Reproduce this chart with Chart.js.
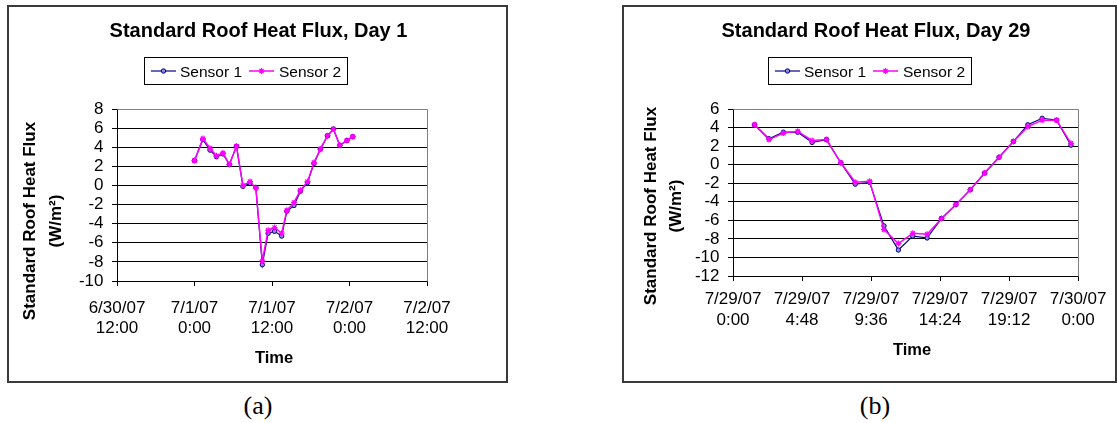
<!DOCTYPE html>
<html><head><meta charset="utf-8">
<script src="https://cdn.jsdelivr.net/npm/chart.js@4.4.1/dist/chart.umd.min.js"></script>
<style>
html,body{margin:0;padding:0;background:#fff;width:1117px;height:423px;overflow:hidden;}
.box{position:absolute;box-sizing:border-box;border:2px solid #3a3a3a;background:#fff;}
.box canvas{display:block;}
.cap{position:absolute;font-family:'Liberation Serif','Times New Roman',serif;font-size:26px;line-height:26px;width:100px;text-align:center;color:#000;}
</style></head><body>
<div class="box" style="left:7px;top:5px;width:501px;height:378px;"><canvas id="ca" width="497" height="374"></canvas></div>
<div class="box" style="left:622px;top:5px;width:495px;height:378px;"><canvas id="cb" width="491" height="374"></canvas></div>
<div class="cap" style="left:208px;top:393px;">(a)</div>
<div class="cap" style="left:825px;top:393px;">(b)</div>
<script>
// ---------- DATA ----------
const sensorNames = ['Sensor 1', 'Sensor 2'];
const yTitle = ['Standard Roof Heat Flux', '(W/m\u00B2)'];
const xTitle = 'Time';

// (a) Day 1 — time in hours after 7/1/07 0:00
const titleA = 'Standard Roof Heat Flux, Day 1';
const hoursA = [0, 1.3, 2.4, 3.4, 4.4, 5.4, 6.5, 7.5, 8.6, 9.5, 10.5, 11.4, 12.4, 13.5, 14.3, 15.4, 16.4, 17.5, 18.5, 19.5, 20.6, 21.5, 22.5, 23.6, 24.5];
const sensor1A = [2.6, 4.8, 3.7, 3.0, 3.3, 2.2, 4.1, -0.1, 0.2, -0.2, -8.3, -5.0, -4.8, -5.3, -2.7, -2.1, -0.6, 0.3, 2.3, 3.8, 5.2, 5.9, 4.2, 4.7, 5.1];
const sensor2A = [2.6, 4.9, 3.9, 3.1, 3.4, 2.2, 4.1, 0.0, 0.4, -0.3, -7.9, -4.7, -4.4, -5.0, -2.6, -1.8, -0.5, 0.4, 2.4, 3.8, 5.2, 5.9, 4.2, 4.7, 5.1];
const xTickHoursA = [-12, 0, 12, 24, 36];
const xTickLabelsA = [['6/30/07','12:00'],['7/1/07','0:00'],['7/1/07','12:00'],['7/2/07','0:00'],['7/2/07','12:00']];
const yRangeA = [-10, 8];

// (b) Day 29 — time in hours after 7/29/07 0:00
const titleB = 'Standard Roof Heat Flux, Day 29';
const hoursB = [1.5, 2.5, 3.5, 4.5, 5.5, 6.5, 7.5, 8.5, 9.5, 10.5, 11.5, 12.5, 13.5, 14.5, 15.5, 16.5, 17.5, 18.5, 19.5, 20.5, 21.5, 22.5, 23.5];
const sensor1B = [4.3, 2.8, 3.5, 3.5, 2.4, 2.7, 0.2, -2.1, -1.9, -6.6, -9.2, -7.7, -7.9, -5.8, -4.3, -2.7, -0.9, 0.8, 2.5, 4.3, 5.0, 4.8, 2.1];
const sensor2B = [4.3, 2.7, 3.4, 3.6, 2.6, 2.7, 0.2, -1.9, -1.8, -7.0, -8.5, -7.4, -7.5, -5.8, -4.3, -2.7, -0.9, 0.8, 2.5, 4.1, 4.8, 4.8, 2.3];
const xTickHoursB = [0, 4.8, 9.6, 14.4, 19.2, 24];
const xTickLabelsB = [['7/29/07','0:00'],['7/29/07','4:48'],['7/29/07','9:36'],['7/29/07','14:24'],['7/29/07','19:12'],['7/30/07','0:00']];
const yRangeB = [-12, 6];

// ---------- STYLE ----------
const FONT = "'Liberation Sans', Arial, sans-serif";
Chart.defaults.font.family = FONT;
Chart.defaults.color = '#000';
const S1 = {line:'#000080', fill:'#8c8cdc'};
const S2 = {line:'#ff00ff'};

function drawMarker(ctx, style, x, y) {
  ctx.save();
  if (style === 'circle') {
    ctx.beginPath(); ctx.arc(x, y, 2.2, 0, Math.PI*2);
    ctx.fillStyle = S1.fill; ctx.fill();
    ctx.lineWidth = 1; ctx.strokeStyle = S1.line; ctx.stroke();
  } else {
    const r = 3; ctx.strokeStyle = S2.line; ctx.lineWidth = 1.2; ctx.beginPath();
    for (let k = 0; k < 4; k++) {
      const a = k*Math.PI/4;
      ctx.moveTo(x - r*Math.cos(a), y - r*Math.sin(a));
      ctx.lineTo(x + r*Math.cos(a), y + r*Math.sin(a));
    }
    ctx.stroke();
  }
  ctx.restore();
}

const decoPlugin = {
  id: 'deco',
  beforeDatasetsDraw(chart) {
    const ctx = chart.ctx, a = chart.chartArea;
    const al = v => Math.round(v - 0.5) + 0.5;
    ctx.save();
    ctx.strokeStyle = '#808080'; ctx.lineWidth = 1;
    ctx.beginPath();
    ctx.moveTo(al(a.left), al(a.top)); ctx.lineTo(al(a.right), al(a.top)); ctx.lineTo(al(a.right), al(a.bottom));
    ctx.stroke();
    ctx.restore();
  },
  afterDraw(chart, args, o) {
    const ctx = chart.ctx;
    ctx.save();
    ctx.fillStyle = '#000';
    // title
    ctx.font = 'bold 20px ' + FONT; ctx.textAlign = 'center'; ctx.textBaseline = 'alphabetic';
    ctx.fillText(o.title, o.titleX, o.titleY);
    // legend
    const L = o.legendX, T = o.legendY;
    ctx.strokeStyle = '#000'; ctx.lineWidth = 1;
    ctx.strokeRect(L + 0.5, T + 0.5, 203, 27);
    const sx = [7, 105], tx = [36, 135], styles = ['circle', 'star'];
    ctx.font = '15.5px ' + FONT; ctx.textAlign = 'left';
    chart.data.datasets.forEach((ds, i) => {
      const y = T + 14;
      ctx.strokeStyle = ds.borderColor; ctx.lineWidth = ds.borderWidth;
      ctx.beginPath(); ctx.moveTo(L + sx[i], y); ctx.lineTo(L + sx[i] + 25, y); ctx.stroke();
      drawMarker(ctx, styles[i], L + sx[i] + 12.5, y);
      ctx.fillStyle = '#000';
      ctx.fillText(ds.label, L + tx[i], T + 20);
    });
    // y title (rotated)
    ctx.font = 'bold 17px ' + FONT; ctx.textAlign = 'center';
    yTitle.forEach((t, i) => {
      ctx.save(); ctx.translate(o.yTitleX[i], o.yTitleY); ctx.rotate(-Math.PI/2);
      ctx.fillText(t, 0, 0); ctx.restore();
    });
    // x title
    ctx.font = 'bold 16.5px ' + FONT;
    ctx.fillText(xTitle, o.xTitleX, o.xTitleY);
    ctx.restore();
  }
};

function makeDatasets(hours, s1, s2) {
  return [
    { label: sensorNames[0], data: hours.map((h, i) => ({x: h, y: s1[i]})),
      borderColor: S1.line, borderWidth: 1.2, tension: 0, pointStyle: 'circle', pointRadius: 2.2,
      pointBorderWidth: 1, pointBorderColor: S1.line, pointBackgroundColor: S1.fill, order: 1 },
    { label: sensorNames[1], data: hours.map((h, i) => ({x: h, y: s2[i]})),
      borderColor: S2.line, borderWidth: 1.5, tension: 0, pointStyle: 'star', pointRadius: 3,
      pointBorderWidth: 1.2, pointBorderColor: S2.line, pointBackgroundColor: S2.line, order: 0 }
  ];
}

function makeChart(id, hours, s1, s2, xTicks, xLabels, yRange, L) {
  return new Chart(document.getElementById(id), {
    type: 'line',
    data: { datasets: makeDatasets(hours, s1, s2) },
    plugins: [decoPlugin],
    options: {
      responsive: false, animation: false, devicePixelRatio: 1,
      layout: { autoPadding: false, padding: { left: L.padL, right: L.padR, top: L.padT, bottom: L.padB } },
      plugins: { legend: {display: false}, title: {display: false}, tooltip: {enabled: false}, deco: L.deco },
      scales: {
        x: { type: 'linear', min: xTicks[0], max: xTicks[xTicks.length - 1],
             afterBuildTicks: s => { s.ticks = xTicks.map(v => ({value: v})); },
             afterFit: s => { s.height = 60; },
             ticks: { autoSkip: false, maxRotation: 0, minRotation: 0, padding: L.xPad, color: '#000',
                      font: {size: 17, lineHeight: 1.2}, callback: (v, i) => xLabels[i] },
             grid: { drawOnChartArea: false, drawTicks: true, tickLength: 5, color: '#000', lineWidth: 1 },
             border: { display: true, color: '#000', width: 1 } },
        y: { type: 'linear', min: yRange[0], max: yRange[1],
             afterFit: s => { s.width = 60; },
             ticks: { stepSize: 2, autoSkip: false, padding: 8.5, color: '#000', font: {size: 17} },
             grid: { color: '#000', lineWidth: 1, drawTicks: true, tickLength: 5 },
             border: { display: true, color: '#000', width: 1 } }
      }
    }
  });
}

makeChart('ca', hoursA, sensor1A, sensor2A, xTickHoursA, xTickLabelsA, yRangeA, {
  padL: 48, padR: 79, padT: 102, padB: 40, xPad: 12,
  deco: { title: titleA, titleX: 249.5, titleY: 30, legendX: 135, legendY: 50,
          yTitleX: [26, 52.4], yTitleY: 214, xTitleX: 265, xTitleY: 356 }
});
makeChart('cb', hoursB, sensor1B, sensor2B, xTickHoursB, xTickLabelsB, yRangeB, {
  padL: 49, padR: 28, padT: 102, padB: 45, xPad: 8.5,
  deco: { title: titleB, titleX: 252, titleY: 30, legendX: 144, legendY: 50,
          yTitleX: [32, 57.4], yTitleY: 199, xTitleX: 288, xTitleY: 348 }
});
</script>
</body></html>
